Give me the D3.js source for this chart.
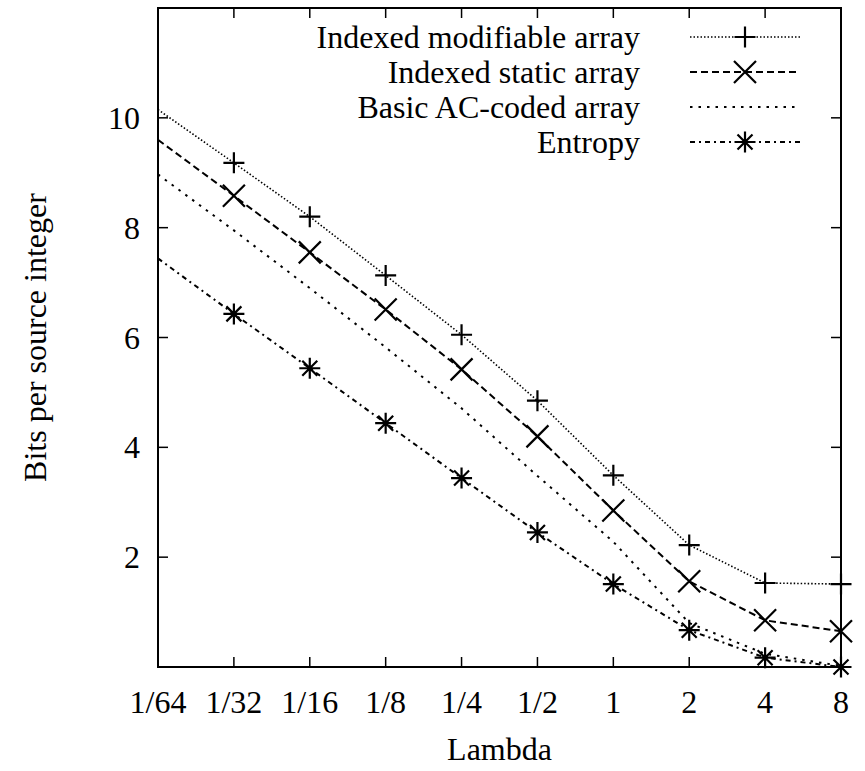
<!DOCTYPE html>
<html><head><meta charset="utf-8">
<script src="https://cdn.jsdelivr.net/npm/d3@7"></script>
<style>body{margin:0;background:#fff}svg{display:block}
svg text{font-family:"Times New Roman",Times,"Liberation Serif",Tinos,"Nimbus Roman","DejaVu Serif","Noto Serif",serif}</style>
</head><body>
<script>
const lambdaLabels = ["1/64","1/32","1/16","1/8","1/4","1/2","1","2","4","8"];
const lambdas = [1/64,1/32,1/16,1/8,1/4,1/2,1,2,4,8];
const modifiable = [10.15, 9.18, 8.2, 7.13, 6.05, 4.85, 3.49, 2.22, 1.53, 1.51];
const staticArr  = [9.6, 8.58, 7.55, 6.51, 5.42, 4.2, 2.85, 1.56, 0.85, 0.65];
const basicAC    = [8.97, 7.95, 6.9, 5.82, 4.71, 3.48, 2.28, 0.8, 0.24, 0.02];
const entropy    = [7.44, 6.43, 5.44, 4.44, 3.44, 2.45, 1.51, 0.67, 0.17, 0.0];
const yTicks = [2,4,6,8,10];
const seriesNames = ["Indexed modifiable array","Indexed static array","Basic AC-coded array","Entropy"];

const W=865,H=771, L=158,R=841,T=8,B=667;
const svg=d3.select("body").append("svg").attr("width",W).attr("height",H);
const x=d3.scaleLog().base(2).domain([1/64,8]).range([L,R]);
const y=d3.scaleLinear().domain([0,12]).range([B,T]);

const series=[
 {name:seriesNames[0],vals:modifiable,dash:"1.5,2",w:1.6,mk:"plus"},
 {name:seriesNames[1],vals:staticArr,dash:"7,4",w:2,mk:"cross"},
 {name:seriesNames[2],vals:basicAC,dash:"2.5,6",w:2,mk:null},
 {name:seriesNames[3],vals:entropy,dash:"5,4,2,4",w:2,mk:"star"}
];

function marker(mk,cx,cy){
  const s=10.5, c=11, cs=7.5;
  const plus=`M${cx-s},${cy}H${cx+s}M${cx},${cy-s}V${cy+s}`;
  const cross=`M${cx-c},${cy-c}L${cx+c},${cy+c}M${cx-c},${cy+c}L${cx+c},${cy-c}`;
  const small=`M${cx-cs},${cy-cs}L${cx+cs},${cy+cs}M${cx-cs},${cy+cs}L${cx+cs},${cy-cs}`;
  if(mk==="plus")return plus;
  if(mk==="cross")return cross;
  if(mk==="star")return plus+small;
  return "";
}

svg.append("defs").append("clipPath").attr("id","clip").append("rect")
  .attr("x",L).attr("y",T).attr("width",R-L).attr("height",B-T);

const line=d3.line().x(d=>x(d[0])).y(d=>y(d[1]));
const g=svg.append("g");
series.forEach(s=>{
  const pts=lambdas.map((l,i)=>[l,s.vals[i]]);
  g.append("path").attr("d",line(pts)).attr("fill","none").attr("stroke","#000")
    .attr("stroke-width",s.w).attr("stroke-dasharray",s.dash).attr("clip-path","url(#clip)");
  if(s.mk){
    // boundary point at the left edge is clipped in the original plot
    pts.filter(p=>p[0]>x.domain()[0]*1.0001).forEach(p=>{
      g.append("path").attr("d",marker(s.mk,x(p[0]),y(p[1]))).attr("stroke","#000")
        .attr("stroke-width",2.2).attr("fill","none");
    });
  }
});

svg.append("rect").attr("x",L).attr("y",T).attr("width",R-L).attr("height",B-T)
  .attr("fill","none").attr("stroke","#000").attr("stroke-width",2);

const tl=10;
lambdas.forEach((l,i)=>{
  const xx=x(l);
  if(i>0&&i<lambdas.length-1){
    svg.append("line").attr("x1",xx).attr("x2",xx).attr("y1",B).attr("y2",B-tl).attr("stroke","#000").attr("stroke-width",1.5);
    svg.append("line").attr("x1",xx).attr("x2",xx).attr("y1",T).attr("y2",T+tl).attr("stroke","#000").attr("stroke-width",1.5);
  }
  svg.append("text").attr("x",xx).attr("y",713).attr("text-anchor","middle").attr("font-size",32).text(lambdaLabels[i]);
});
yTicks.forEach(v=>{
  const yy=y(v);
  svg.append("line").attr("x1",L).attr("x2",L+tl).attr("y1",yy).attr("y2",yy).attr("stroke","#000").attr("stroke-width",1.5);
  svg.append("line").attr("x1",R).attr("x2",R-tl).attr("y1",yy).attr("y2",yy).attr("stroke","#000").attr("stroke-width",1.5);
  svg.append("text").attr("x",140).attr("y",yy+11).attr("text-anchor","end").attr("font-size",32).text(v);
});

svg.append("text").attr("x",(L+R)/2).attr("y",760).attr("text-anchor","middle").attr("font-size",32).text("Lambda");
svg.append("text").attr("transform",`translate(46,${(T+B)/2}) rotate(-90)`).attr("text-anchor","middle").attr("font-size",32).text("Bits per source integer");

series.forEach((s,i)=>{
  const ly=37+i*35;
  svg.append("text").attr("x",640).attr("y",ly+11).attr("text-anchor","end").attr("font-size",32).text(s.name);
  svg.append("line").attr("x1",690).attr("x2",800).attr("y1",ly).attr("y2",ly).attr("stroke","#000")
    .attr("stroke-width",s.w).attr("stroke-dasharray",s.dash);
  if(s.mk) svg.append("path").attr("d",marker(s.mk,745,ly)).attr("stroke","#000").attr("stroke-width",2.2).attr("fill","none");
});
</script>
</body></html>
